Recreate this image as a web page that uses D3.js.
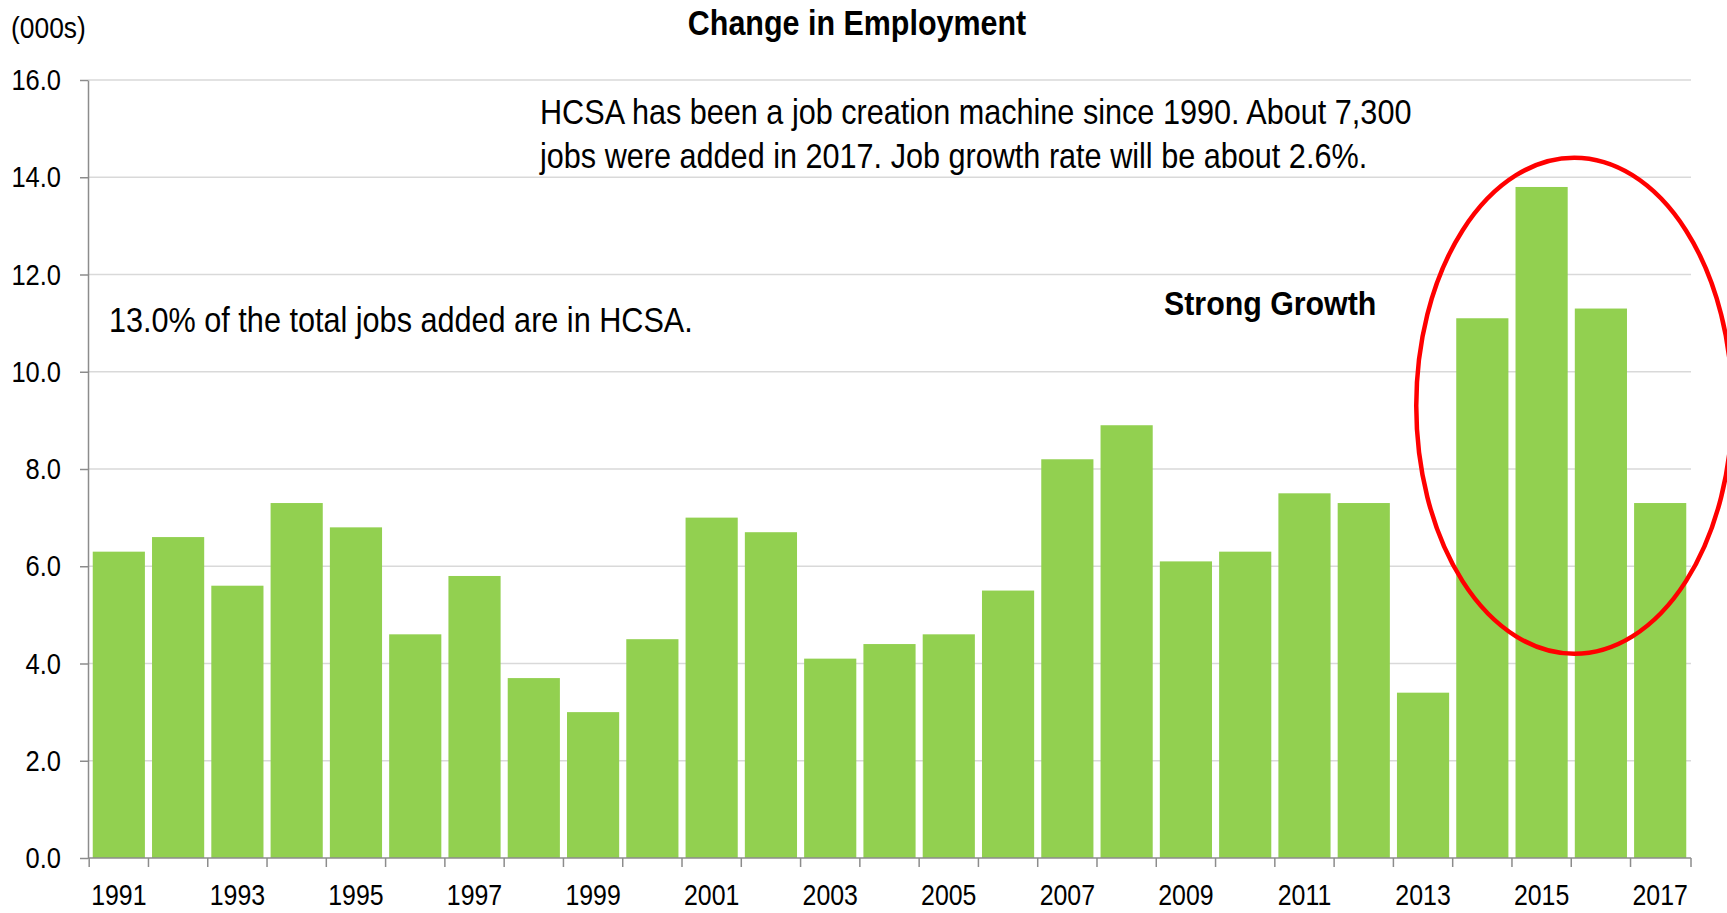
<!DOCTYPE html>
<html>
<head>
<meta charset="utf-8">
<script src="https://cdn.jsdelivr.net/npm/d3@7/dist/d3.min.js"></script>
<style>
  html, body { margin: 0; padding: 0; background: #fff; }
  svg { display: block; }
  text { font-family: 'Liberation Sans', Arial, sans-serif; fill: #000; }
</style>
</head>
<body>
<svg id="chart" width="1727" height="913"></svg>
<script>
// Annual change in employment, thousands of jobs
const years = [1991, 1992, 1993, 1994, 1995, 1996, 1997, 1998, 1999, 2000,
               2001, 2002, 2003, 2004, 2005, 2006, 2007, 2008, 2009, 2010,
               2011, 2012, 2013, 2014, 2015, 2016, 2017];
const jobsAdded = [6.3, 6.6, 5.6, 7.3, 6.8, 4.6, 5.8, 3.7, 3.0, 4.5,
                   7.0, 6.7, 4.1, 4.4, 4.6, 5.5, 8.2, 8.9, 6.1, 6.3,
                   7.5, 7.3, 3.4, 11.1, 13.8, 11.3, 7.3];
const yTicks = [0, 2, 4, 6, 8, 10, 12, 14, 16];
const xTickLabels = years.filter((d, i) => i % 2 === 0);

const svg = d3.select("#chart");
const margin = { left: 88, right: 36, top: 80, bottom: 55 };
const W = 1727, H = 913;
const NARROW = 0.85; // horizontal squeeze giving a narrow face

// text helper: places a horizontally condensed label at (px, py)
function label(parent, px, py, str, size, opts = {}) {
  return parent.append("text")
    .attr("transform", `translate(${px},${py}) scale(${opts.squeeze || NARROW},1)`)
    .attr("text-anchor", opts.anchor || "start")
    .style("font-size", size + "px")
    .style("font-weight", opts.bold ? "bold" : "normal")
    .text(str);
}

const x = d3.scaleBand()
  .domain(years)
  .range([margin.left, W - margin.right])
  .paddingInner(0.12)
  .paddingOuter(0.08);

const y = d3.scaleLinear()
  .domain([0, 16])
  .range([H - margin.bottom, margin.top]);

// horizontal gridlines
svg.append("g")
  .selectAll("line")
  .data(yTicks.filter(d => d > 0))
  .join("line")
  .attr("x1", margin.left)
  .attr("x2", W - margin.right)
  .attr("y1", d => y(d))
  .attr("y2", d => y(d))
  .attr("stroke", "#d9d9d9")
  .attr("stroke-width", 1.5);

// bars
svg.append("g")
  .selectAll("rect")
  .data(years)
  .join("rect")
  .attr("x", d => x(d))
  .attr("width", x.bandwidth())
  .attr("y", (d, i) => y(jobsAdded[i]))
  .attr("height", (d, i) => y(0) - y(jobsAdded[i]))
  .attr("fill", "#92d050");

// y axis
const yAxis = d3.axisLeft(y)
  .tickValues(yTicks)
  .tickFormat(d3.format(".1f"))
  .tickSize(8)
  .tickPadding(19)
  .tickSizeOuter(0);
const gy = svg.append("g")
  .attr("transform", `translate(${margin.left},0)`)
  .call(yAxis);
gy.select(".domain").attr("stroke", "#8c8c8c").attr("stroke-width", 1.5);
gy.selectAll(".tick line").attr("stroke", "#8c8c8c").attr("stroke-width", 1.5);
gy.selectAll(".tick text")
  .style("font-size", "30px")
  .attr("fill", "#000")
  .each(function () {
    const t = d3.select(this);
    const tx = +t.attr("x");
    t.attr("x", 0).attr("transform", `translate(${tx},0) scale(${NARROW},1)`);
  });

// x axis: baseline with tick marks between categories
const gx = svg.append("g");
gx.append("line")
  .attr("x1", margin.left)
  .attr("x2", W - margin.right)
  .attr("y1", y(0))
  .attr("y2", y(0))
  .attr("stroke", "#8c8c8c")
  .attr("stroke-width", 1.5);
const gap = x.step() - x.bandwidth();
const boundaries = years.map(d => x(d) - gap / 2).concat([W - margin.right]);
gx.selectAll("line.sep")
  .data(boundaries)
  .join("line")
  .attr("class", "sep")
  .attr("x1", d => d)
  .attr("x2", d => d)
  .attr("y1", y(0))
  .attr("y2", y(0) + 9)
  .attr("stroke", "#8c8c8c")
  .attr("stroke-width", 1.5);
xTickLabels.forEach(d => {
  label(gx, x(d) + x.bandwidth() / 2, y(0) + 47, d, 30, { anchor: "middle", squeeze: 0.83 });
});

// titles and annotations
label(svg, 857, 35, "Change in Employment", 35, { anchor: "middle", bold: true, squeeze: 0.87 });
label(svg, 11, 38, "(000s)", 30, { squeeze: 0.88 });

label(svg, 540, 124, "HCSA has been a job creation machine since 1990. About 7,300", 35, { squeeze: 0.875 });
label(svg, 540, 168, "jobs were added in 2017. Job growth rate will be about 2.6%.", 35, { squeeze: 0.875 });
label(svg, 109, 332, "13.0% of the total jobs added are in HCSA.", 35, { squeeze: 0.875 });
label(svg, 1164, 315, "Strong Growth", 33, { bold: true, squeeze: 0.92 });

// ring around the peak years, centred just past the 2015/2016 boundary
const cx = (x(2015) + x.bandwidth() + x(2016)) / 2 + 3;
svg.append("ellipse")
  .attr("cx", cx)
  .attr("cy", y(9.3))
  .attr("rx", 158)
  .attr("ry", 248)
  .attr("fill", "none")
  .attr("stroke", "#ff0000")
  .attr("stroke-width", 4.5);
</script>
</body>
</html>
